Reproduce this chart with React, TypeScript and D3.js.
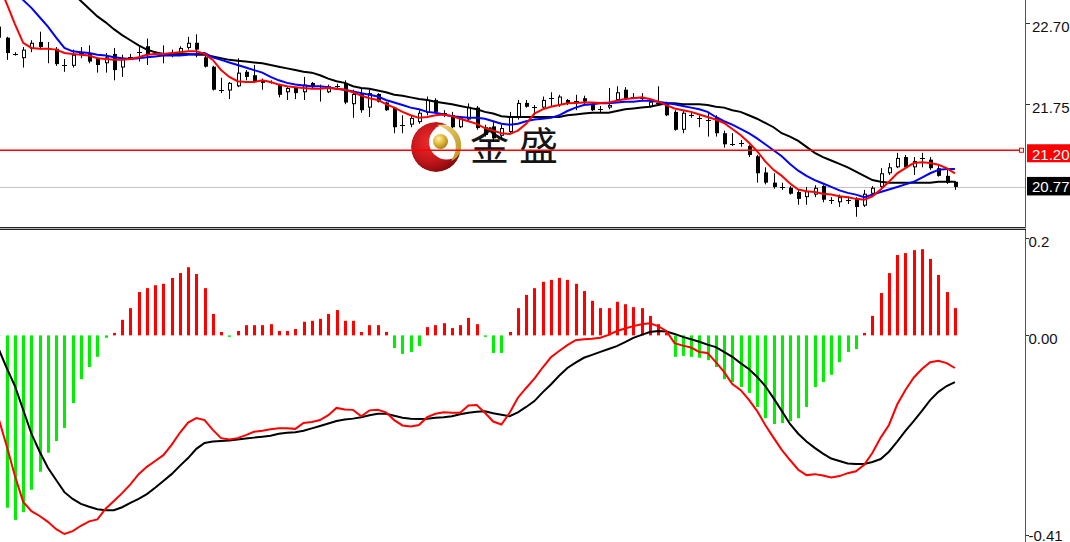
import React from 'react';
import * as d3 from 'd3';

const W = 1070;
const H = 542;

// bar index runs from -1 (partly hidden at the left edge) to 115
const opens = [22.65,
  22.52, 22.33, 22.28, 22.39, 22.47, 22.40, 22.39, 22.20, 22.19, 22.34,
  22.34, 22.27, 22.22, 22.33, 22.17, 22.29, 22.35, 22.42, 22.34, 22.32,
  22.34, 22.34, 22.40, 22.46, 22.29, 22.18, 21.91, 21.90, 21.95, 22.12,
  22.08, 22.02, 22.00, 21.97, 21.88, 21.93, 21.88, 21.99, 21.93, 21.88,
  21.95, 21.99, 21.74, 21.87, 21.70, 21.86, 21.76, 21.70, 21.50, 21.50,
  21.53, 21.64, 21.79, 21.64, 21.61, 21.47, 21.56, 21.70, 21.47, 21.48,
  21.37, 21.415, 21.58, 21.755, 21.71, 21.70, 21.81, 21.73, 21.79, 21.78,
  21.81, 21.73, 21.68, 21.70, 21.79, 21.91, 21.825, 21.81, 21.71, 21.755,
  21.755, 21.65, 21.44, 21.61, 21.58, 21.555, 21.59, 21.40, 21.27, 21.29,
  21.25, 21.13, 20.94, 20.82, 20.77, 20.76, 20.71, 20.65, 20.68, 20.78,
  20.62, 20.59, 20.62, 20.63, 20.55, 20.69, 20.77, 20.93, 21.00, 21.12,
  21.00, 21.11, 21.09, 20.99, 20.90, 20.83];

const highs = [22.68,
  22.53, 22.35, 22.41, 22.49, 22.59, 22.47, 22.41, 22.27, 22.38, 22.41,
  22.43, 22.29, 22.34, 22.40, 22.32, 22.33, 22.41, 22.51, 22.36, 22.43,
  22.38, 22.42, 22.53, 22.56, 22.34, 22.19, 22.05, 22.00, 22.28, 22.14,
  22.20, 22.04, 22.02, 21.98, 21.94, 21.94, 22.06, 22.00, 21.97, 21.97,
  21.98, 22.02, 21.91, 21.93, 21.91, 21.87, 21.77, 21.71, 21.61, 21.61,
  21.67, 21.83, 21.81, 21.67, 21.65, 21.59, 21.75, 21.72, 21.50, 21.53,
  21.50, 21.65, 21.79, 21.79, 21.73, 21.83, 21.88, 21.85, 21.80, 21.85,
  21.84, 21.755, 21.72, 21.93, 21.95, 21.94, 21.87, 21.87, 21.79, 21.95,
  21.77, 21.67, 21.67, 21.65, 21.61, 21.64, 21.61, 21.43, 21.40, 21.32,
  21.26, 21.145, 21.00, 20.93, 20.82, 20.78, 20.735, 20.77, 20.79, 20.79,
  20.65, 20.68, 20.66, 20.65, 20.735, 20.78, 20.99, 21.05, 21.17, 21.145,
  21.12, 21.17, 21.12, 21.02, 20.97, 20.84];

const lows = [22.50,
  22.26, 22.31, 22.17, 22.35, 22.38, 22.22, 22.19, 22.12, 22.17, 22.28,
  22.22, 22.11, 22.11, 22.02, 22.06, 22.26, 22.24, 22.20, 22.32, 22.22,
  22.29, 22.32, 22.38, 22.29, 22.17, 21.90, 21.87, 21.80, 21.94, 22.02,
  22.00, 21.91, 21.98, 21.82, 21.79, 21.80, 21.79, 21.93, 21.77, 21.87,
  21.93, 21.74, 21.58, 21.64, 21.59, 21.76, 21.66, 21.40, 21.40, 21.47,
  21.51, 21.61, 21.63, 21.59, 21.46, 21.46, 21.54, 21.44, 21.36, 21.30,
  21.32, 21.39, 21.56, 21.70, 21.61, 21.68, 21.71, 21.71, 21.73, 21.67,
  21.74, 21.66, 21.64, 21.68, 21.78, 21.80, 21.80, 21.79, 21.70, 21.72,
  21.60, 21.43, 21.40, 21.58, 21.47, 21.36, 21.36, 21.23, 21.25, 21.24,
  21.12, 20.82, 20.80, 20.75, 20.735, 20.68, 20.56, 20.56, 20.65, 20.59,
  20.57, 20.535, 20.57, 20.42, 20.535, 20.66, 20.76, 20.91, 20.99, 20.99,
  20.91, 21.00, 20.97, 20.89, 20.805, 20.735];

const closes = [22.52,
  22.34, 22.33, 22.38, 22.46, 22.41, 22.40, 22.21, 22.20, 22.32, 22.34,
  22.24, 22.20, 22.29, 22.14, 22.27, 22.29, 22.35, 22.32, 22.34, 22.32,
  22.34, 22.40, 22.46, 22.38, 22.18, 21.91, 21.91, 21.99, 22.11, 22.06,
  22.01, 21.99, 22.00, 21.85, 21.93, 21.87, 21.97, 21.94, 21.93, 21.95,
  21.95, 21.76, 21.86, 21.67, 21.87, 21.77, 21.67, 21.47, 21.50, 21.58,
  21.64, 21.79, 21.65, 21.64, 21.47, 21.58, 21.71, 21.46, 21.38, 21.34,
  21.46, 21.59, 21.755, 21.71, 21.71, 21.79, 21.81, 21.83, 21.755, 21.78,
  21.77, 21.67, 21.68, 21.73, 21.88, 21.81, 21.825, 21.81, 21.77, 21.755,
  21.61, 21.44, 21.64, 21.61, 21.58, 21.555, 21.40, 21.27, 21.27, 21.29,
  21.145, 20.93, 20.82, 20.77, 20.77, 20.69, 20.63, 20.72, 20.76, 20.62,
  20.62, 20.65, 20.62, 20.535, 20.69, 20.76, 20.93, 21.00, 21.11, 21.00,
  21.075, 21.11, 20.99, 20.90, 20.82, 20.77];

// moving averages (red = fast, blue = middle, black = slow)
const maFast = [23.15,
  22.92, 22.68, 22.46, 22.40, 22.39, 22.39, 22.38, 22.34, 22.33, 22.32,
  22.31, 22.28, 22.27, 22.26, 22.26, 22.27, 22.29, 22.32, 22.33, 22.33,
  22.34, 22.35, 22.36, 22.36, 22.33, 22.26, 22.14, 22.06, 22.01, 22.00,
  22.00, 22.02, 22.00, 21.97, 21.95, 21.94, 21.93, 21.92, 21.92, 21.93,
  21.92, 21.91, 21.88, 21.84, 21.81, 21.79, 21.74, 21.70, 21.65, 21.61,
  21.58, 21.59, 21.61, 21.62, 21.60, 21.57, 21.54, 21.51, 21.46, 21.43,
  21.40, 21.39, 21.43, 21.51, 21.63, 21.68, 21.71, 21.73, 21.75, 21.755,
  21.76, 21.76, 21.755, 21.76, 21.78, 21.80, 21.81, 21.82, 21.80, 21.77,
  21.73, 21.69, 21.67, 21.65, 21.62, 21.59, 21.56, 21.52, 21.45, 21.38,
  21.29, 21.19, 21.07, 20.97, 20.90, 20.81, 20.74, 20.72, 20.71, 20.69,
  20.68, 20.66, 20.65, 20.63, 20.62, 20.66, 20.74, 20.83, 20.93, 20.99,
  21.05, 21.06, 21.05, 21.03, 20.99, 20.93];

const maMid = [23.31,
  23.20, 23.08, 22.96, 22.87, 22.76, 22.65, 22.52, 22.40, 22.36, 22.35,
  22.34, 22.32, 22.31, 22.29, 22.28, 22.27, 22.28, 22.29, 22.30, 22.31,
  22.31, 22.31, 22.32, 22.33, 22.34, 22.29, 22.26, 22.23, 22.20, 22.17,
  22.14, 22.11, 22.06, 22.02, 21.99, 21.97, 21.96, 21.95, 21.95, 21.94,
  21.92, 21.91, 21.89, 21.87, 21.85, 21.83, 21.79, 21.76, 21.73, 21.70,
  21.68, 21.65, 21.64, 21.62, 21.60, 21.59, 21.58, 21.58, 21.57, 21.54,
  21.51, 21.50, 21.51, 21.54, 21.56, 21.57, 21.58, 21.61, 21.66, 21.70,
  21.73, 21.74, 21.75, 21.75, 21.76, 21.77, 21.77, 21.78, 21.78, 21.77,
  21.755, 21.74, 21.72, 21.70, 21.68, 21.65, 21.59, 21.54, 21.50, 21.45,
  21.40, 21.34, 21.27, 21.20, 21.13, 21.04, 20.96, 20.90, 20.85, 20.81,
  20.77, 20.73, 20.70, 20.68, 20.65, 20.68, 20.71, 20.74, 20.77, 20.80,
  20.83, 20.88, 20.93, 20.97, 20.98, 20.98];

const maSlow = [23.69,
  23.61, 23.52, 23.45, 23.40, 23.35, 23.29, 23.21, 23.13, 23.04, 22.95,
  22.86, 22.77, 22.70, 22.62, 22.55, 22.49, 22.43, 22.38, 22.35, 22.33,
  22.33, 22.33, 22.33, 22.32, 22.32, 22.30, 22.28, 22.26, 22.25, 22.24,
  22.23, 22.22, 22.20, 22.18, 22.16, 22.14, 22.12, 22.11, 22.08, 22.04,
  22.01, 21.99, 21.95, 21.93, 21.92, 21.90, 21.88, 21.85, 21.84, 21.82,
  21.80, 21.79, 21.77, 21.755, 21.74, 21.72, 21.70, 21.68, 21.65, 21.63,
  21.60, 21.59, 21.59, 21.59, 21.59, 21.59, 21.59, 21.59, 21.61, 21.62,
  21.63, 21.64, 21.64, 21.64, 21.66, 21.68, 21.69, 21.70, 21.71, 21.73,
  21.75, 21.75, 21.74, 21.74, 21.74, 21.73, 21.71, 21.70, 21.67, 21.65,
  21.61, 21.57, 21.52, 21.47, 21.40, 21.36, 21.31, 21.24, 21.17, 21.12,
  21.08, 21.04, 21.00, 20.95, 20.90, 20.85, 20.83, 20.82, 20.82, 20.82,
  20.82, 20.82, 20.82, 20.83, 20.83, 20.83];

// MACD panel
const macdHist = [-0.33,
  -0.354, -0.379, -0.363, -0.317, -0.280, -0.241, -0.217, -0.190, -0.139, -0.090,
  -0.065, -0.044, -0.005, 0.005, 0.032, 0.056, 0.089, 0.097, 0.103, 0.106,
  0.118, 0.128, 0.140, 0.126, 0.097, 0.044, 0.007, -0.003, 0.009, 0.021,
  0.021, 0.021, 0.023, 0.009, 0.009, 0.013, 0.028, 0.030, 0.034, 0.044,
  0.052, 0.030, 0.030, 0.007, 0.021, 0.021, 0.007, -0.026, -0.038, -0.034,
  -0.022, 0.017, 0.021, 0.025, 0.015, 0.021, 0.036, 0.023, -0.003, -0.036,
  -0.036, 0.007, 0.056, 0.083, 0.097, 0.110, 0.114, 0.118, 0.114, 0.106,
  0.091, 0.071, 0.056, 0.056, 0.069, 0.064, 0.058, 0.056, 0.040, 0.023,
  0.005, -0.044, -0.042, -0.044, -0.046, -0.051, -0.065, -0.090, -0.096, -0.106,
  -0.118, -0.147, -0.170, -0.182, -0.180, -0.176, -0.170, -0.147, -0.106, -0.096,
  -0.081, -0.055, -0.034, -0.028, 0.005, 0.040, 0.087, 0.128, 0.165, 0.169,
  0.175, 0.177, 0.157, 0.124, 0.089, 0.056];

const macdMain = [-0.170,
  -0.227, -0.289, -0.342, -0.361, -0.371, -0.383, -0.398, -0.408, -0.402, -0.391,
  -0.382, -0.378, -0.356, -0.340, -0.324, -0.306, -0.285, -0.270, -0.258, -0.246,
  -0.225, -0.200, -0.179, -0.170, -0.174, -0.194, -0.211, -0.214, -0.211, -0.205,
  -0.198, -0.196, -0.193, -0.191, -0.191, -0.192, -0.180, -0.178, -0.174, -0.164,
  -0.149, -0.152, -0.153, -0.166, -0.154, -0.153, -0.158, -0.174, -0.185, -0.187,
  -0.184, -0.168, -0.161, -0.158, -0.159, -0.159, -0.144, -0.143, -0.159, -0.177,
  -0.183, -0.159, -0.128, -0.108, -0.089, -0.066, -0.045, -0.032, -0.020, -0.010,
  -0.008, -0.007, -0.005, 0.001, 0.009, 0.014, 0.019, 0.023, 0.025, 0.019,
  0.009, -0.016, -0.021, -0.025, -0.034, -0.036, -0.055, -0.075, -0.100, -0.112,
  -0.132, -0.155, -0.184, -0.210, -0.235, -0.256, -0.276, -0.287, -0.285, -0.288,
  -0.292, -0.289, -0.283, -0.279, -0.266, -0.241, -0.210, -0.184, -0.142, -0.112,
  -0.087, -0.069, -0.055, -0.052, -0.057, -0.067];

const macdSignal = [-0.027,
  -0.067, -0.104, -0.153, -0.202, -0.239, -0.272, -0.297, -0.322, -0.336, -0.346,
  -0.352, -0.357, -0.359, -0.359, -0.353, -0.344, -0.336, -0.326, -0.313, -0.299,
  -0.285, -0.268, -0.252, -0.233, -0.221, -0.218, -0.217, -0.216, -0.214, -0.212,
  -0.210, -0.208, -0.206, -0.202, -0.200, -0.199, -0.196, -0.191, -0.186, -0.181,
  -0.176, -0.173, -0.171, -0.168, -0.164, -0.161, -0.161, -0.165, -0.169, -0.171,
  -0.172, -0.171, -0.169, -0.168, -0.166, -0.162, -0.159, -0.157, -0.156, -0.160,
  -0.163, -0.166, -0.158, -0.147, -0.135, -0.117, -0.101, -0.083, -0.067, -0.056,
  -0.046, -0.040, -0.034, -0.028, -0.022, -0.014, -0.005, 0.001, 0.007, 0.009,
  0.008, 0.003, -0.003, -0.008, -0.013, -0.019, -0.024, -0.034, -0.044, -0.057,
  -0.069, -0.085, -0.104, -0.129, -0.155, -0.182, -0.202, -0.218, -0.231, -0.243,
  -0.253, -0.258, -0.263, -0.264, -0.264, -0.260, -0.254, -0.239, -0.218, -0.196,
  -0.176, -0.155, -0.133, -0.116, -0.104, -0.096];

const priceTicks = [22.70, 21.75];
const macdTicks = [0.2, 0, -0.41];
const macdTickLabels = ['0.2', '0.00', '-0.41'];
const levelPrice = 21.20;
const bidPrice = 20.77;

const AXIS_X = 1026;
const FONT = "'Liberation Sans', Arial, sans-serif";
const FS = 15;

export default function App() {
  const x = d3.scaleLinear().domain([-1, 115]).range([-1.545, 954.9]);
  const yP = d3.scaleLinear().domain([20.30, 22.962]).range([227, 0]);
  const yM = d3.scaleLinear().domain([-0.41, 0.2]).range([535, 238]);
  const bx = (k: number) => x(k - 1);
  const pLine = d3.line<number>().x((_, k) => bx(k)).y((v) => yP(v));
  const mLine = d3.line<number>().x((_, k) => bx(k)).y((v) => yM(v));
  const fmt = d3.format('.2f');

  const candles = opens.map((o, k) => {
    const h = highs[k], l = lows[k], c = closes[k];
    const cx = Math.round(bx(k));
    const wick = <line key={'w' + k} x1={cx + 0.5} x2={cx + 0.5} y1={yP(h)} y2={yP(l)} stroke="#000" strokeWidth={1} />;
    let body;
    if (Math.abs(o - c) < 0.004) {
      const yy = Math.round(yP(o)) + 0.5;
      body = <line key={'b' + k} x1={cx - 2} x2={cx + 3} y1={yy} y2={yy} stroke="#000" strokeWidth={1} />;
    } else if (c < o) {
      body = <rect key={'b' + k} x={cx - 1} y={yP(o)} width={4} height={Math.max(1, yP(c) - yP(o))} fill="#000" />;
    } else {
      body = <rect key={'b' + k} x={cx - 0.5} y={yP(c) + 0.5} width={3} height={Math.max(1, yP(o) - yP(c) - 1)} fill="#fff" stroke="#000" strokeWidth={1} />;
    }
    return <g key={'c' + k}>{wick}{body}</g>;
  });

  const bars = macdHist.map((v, k) => {
    const cx = Math.round(bx(k));
    const y0 = yM(Math.max(v, 0));
    const y1 = yM(Math.min(v, 0));
    return <rect key={'h' + k} x={cx - 1} y={y0} width={3} height={Math.max(1, y1 - y0)} fill={v >= 0 ? '#ff0000' : '#00ee00'} />;
  });

  const yLevel = yP(levelPrice);
  const yBid = yP(bidPrice);

  return (
    <svg width={W} height={H} style={{ position: 'absolute', left: 0, top: 0, display: 'block', background: '#fff' }}>
      <defs>
        <clipPath id="clipTop"><rect x={0} y={0} width={AXIS_X} height={227} /></clipPath>
        <clipPath id="clipBot"><rect x={0} y={231} width={AXIS_X} height={311} /></clipPath>
        <radialGradient id="redG" cx="38%" cy="40%" r="70%">
          <stop offset="0" stopColor="#ef2b2b" />
          <stop offset="0.55" stopColor="#c4161b" />
          <stop offset="1" stopColor="#760709" />
        </radialGradient>
        <radialGradient id="goldG" cx="38%" cy="32%" r="72%">
          <stop offset="0" stopColor="#fff2a8" />
          <stop offset="0.5" stopColor="#e2b93a" />
          <stop offset="1" stopColor="#a37d1b" />
        </radialGradient>
        <linearGradient id="goldL" x1="0" y1="0" x2="1" y2="1">
          <stop offset="0" stopColor="#f3d77c" />
          <stop offset="1" stopColor="#b78f1e" />
        </linearGradient>
        <mask id="cres">
          <rect x={400} y={110} width={80} height={80} fill="#000" />
          <circle cx={436} cy={147} r={25} fill="#fff" />
          <circle cx={446.5} cy={142} r={17.5} fill="#000" />
        </mask>
      </defs>
      <rect x={0} y={0} width={W} height={H} fill="#fff" />

      {/* watermark logo */}
      <g>
        <circle cx={436} cy={147} r={25} fill="url(#redG)" mask="url(#cres)" />
        <path d="M437 125 C452 123 463 134 461 149 C460 155 456 159 451 161 C455 155 457 148 455 141 C452 133 446 128 437 125 Z" fill="url(#goldL)" />
        <circle cx={440.5} cy={141.5} r={7.5} fill="url(#goldG)" />
        <text x={470} y={160} fontFamily="'Noto Sans CJK SC', sans-serif" fontSize={39} fill="#151515">金</text>
        <text x={519} y={160} fontFamily="'Noto Sans CJK SC', sans-serif" fontSize={39} fill="#151515">盛</text>
      </g>

      {/* price panel */}
      <g clipPath="url(#clipTop)">
        <line x1={0} x2={AXIS_X} y1={Math.round(yBid) + 0.5} y2={Math.round(yBid) + 0.5} stroke="#c4c4c4" strokeWidth={1} />
        {candles}
        <path d={pLine(maSlow) || ''} fill="none" stroke="#000" strokeWidth={2} />
        <path d={pLine(maMid) || ''} fill="none" stroke="#0000ff" strokeWidth={2} />
        <path d={pLine(maFast) || ''} fill="none" stroke="#ff0000" strokeWidth={2} />
        <line x1={0} x2={1019.5} y1={yLevel} y2={yLevel} stroke="#ff0000" strokeWidth={1.5} />
      </g>
      <rect x={1019.5} y={yLevel - 2} width={4} height={4} fill="#fff" stroke="#ff0000" strokeWidth={1} />

      {/* MACD panel */}
      <g clipPath="url(#clipBot)">
        {bars}
        <path d={mLine(macdSignal) || ''} fill="none" stroke="#000" strokeWidth={2} />
        <path d={mLine(macdMain) || ''} fill="none" stroke="#ff0000" strokeWidth={2} />
      </g>

      {/* panel separator */}
      <line x1={0} x2={AXIS_X} y1={227.5} y2={227.5} stroke="#222" strokeWidth={1} />
      <line x1={0} x2={AXIS_X} y1={228.5} y2={228.5} stroke="#b8b8b8" strokeWidth={1} />
      <line x1={0} x2={AXIS_X} y1={229.5} y2={229.5} stroke="#222" strokeWidth={1} />

      {/* right axis */}
      <line x1={AXIS_X - 0.5} x2={AXIS_X - 0.5} y1={0} y2={228} stroke="#555" strokeWidth={1} />
      <line x1={AXIS_X - 0.5} x2={AXIS_X - 0.5} y1={230} y2={H} stroke="#555" strokeWidth={1} />
      {priceTicks.map((v) => (
        <g key={'pt' + v}>
          <line x1={AXIS_X} x2={AXIS_X + 4} y1={Math.round(yP(v)) + 1.5} y2={Math.round(yP(v)) + 1.5} stroke="#333" strokeWidth={1} />
          <text x={1032} y={yP(v) + 9.5} fontFamily={FONT} fontSize={FS} fill="#111">{fmt(v)}</text>
        </g>
      ))}
      {macdTicks.map((v, k) => (
        <g key={'mt' + k}>
          <line x1={AXIS_X} x2={AXIS_X + 3} y1={Math.round(yM(v)) + 0.5} y2={Math.round(yM(v)) + 0.5} stroke="#333" strokeWidth={1} />
          <text x={1028.5} y={Math.min(yM(v) + 9, 541)} fontFamily={FONT} fontSize={FS} fill="#111">{macdTickLabels[k]}</text>
        </g>
      ))}
      <rect x={1027} y={yLevel - 6} width={44} height={18} fill="#ff0000" />
      <text x={1032} y={yLevel + 10} fontFamily={FONT} fontSize={FS} fill="#fff">{fmt(levelPrice)}</text>
      <rect x={1027} y={yBid - 10} width={44} height={18.5} fill="#000" />
      <text x={1032} y={yBid + 5} fontFamily={FONT} fontSize={FS} fill="#fff">{fmt(bidPrice)}</text>
    </svg>
  );
}
